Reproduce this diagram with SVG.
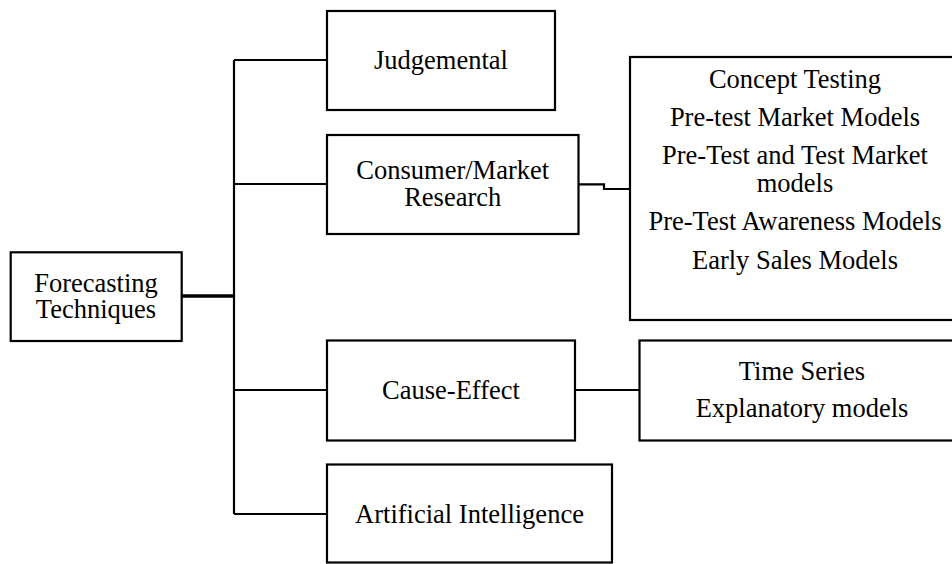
<svg xmlns="http://www.w3.org/2000/svg" width="952" height="564" viewBox="0 0 952 564">
<style>
.box{fill:#fff;stroke:#000;stroke-width:2.2}
.ln{fill:none;stroke:#000;stroke-width:2.2}
</style>
<rect width="952" height="564" fill="#fff"/>
<g id="connectors">
<path class="ln" d="M234 60 V514"/>
<path class="ln" d="M234 60 H327"/>
<path class="ln" d="M234 184 H327"/>
<path class="ln" d="M181 296 H234" style="stroke-width:3.3"/>
<path class="ln" d="M234 390 H327"/>
<path class="ln" d="M234 514 H327"/>
<path class="ln" d="M578.5 184.3 H604 V189 H630"/>
<path class="ln" d="M575 390 H639.5"/>
</g>
<g font-family="'Liberation Serif', 'Times New Roman', Times, serif" font-size="26.5" fill="#000" text-anchor="middle">
<g id="forecasting">
<rect class="box" x="10.7" y="252.3" width="171" height="88.7"/>
<text x="96" y="291.5">Forecasting</text>
<text x="96" y="318">Techniques</text>
</g>
<g id="judgemental">
<rect class="box" x="327" y="11" width="228" height="99"/>
<text x="441" y="69">Judgemental</text>
</g>
<g id="consumer">
<rect class="box" x="327" y="135" width="251.5" height="99"/>
<text x="452.7" y="179">Consumer/Market</text>
<text x="452.7" y="205.7">Research</text>
</g>
<g id="consumer-methods">
<rect class="box" x="630" y="57" width="340" height="263"/>
<text x="795" y="88.3">Concept Testing</text>
<text x="795" y="126">Pre-test Market Models</text>
<text x="795" y="164">Pre-Test and Test Market</text>
<text x="795" y="191.7">models</text>
<text x="795" y="230">Pre-Test Awareness Models</text>
<text x="795" y="268.7">Early Sales Models</text>
</g>
<g id="cause-effect">
<rect class="box" x="327" y="340.5" width="248" height="100"/>
<text x="451" y="399">Cause-Effect</text>
</g>
<g id="cause-methods">
<rect class="box" x="639.5" y="340.5" width="340" height="100"/>
<text x="802" y="380">Time Series</text>
<text x="802" y="416.7">Explanatory models</text>
</g>
<g id="ai">
<rect class="box" x="327" y="464.5" width="285" height="98"/>
<text x="469.5" y="522.7">Artificial Intelligence</text>
</g>
</g>
</svg>
